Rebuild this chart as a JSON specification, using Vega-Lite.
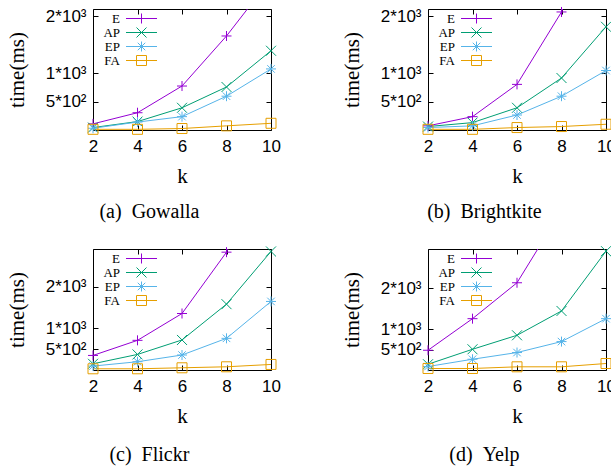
{
  "$schema": "https://vega.github.io/schema/vega-lite/v6.json",
  "padding": {"left": 5, "top": 4, "right": 0, "bottom": 5},
  "background": "white",
  "datasets": {
    "d": [
      {"ds": "Gowalla", "s": "E", "k": 2, "t": 108}, {"ds": "Gowalla", "s": "E", "k": 4, "t": 304}, {"ds": "Gowalla", "s": "E", "k": 6, "t": 774}, {"ds": "Gowalla", "s": "E", "k": 8, "t": 1655}, {"ds": "Gowalla", "s": "E", "k": 10, "t": 2665},
      {"ds": "Gowalla", "s": "AP", "k": 2, "t": 43}, {"ds": "Gowalla", "s": "AP", "k": 4, "t": 148}, {"ds": "Gowalla", "s": "AP", "k": 6, "t": 391}, {"ds": "Gowalla", "s": "AP", "k": 8, "t": 757}, {"ds": "Gowalla", "s": "AP", "k": 10, "t": 1395},
      {"ds": "Gowalla", "s": "EP", "k": 2, "t": 31}, {"ds": "Gowalla", "s": "EP", "k": 4, "t": 140}, {"ds": "Gowalla", "s": "EP", "k": 6, "t": 235}, {"ds": "Gowalla", "s": "EP", "k": 8, "t": 595}, {"ds": "Gowalla", "s": "EP", "k": 10, "t": 1075},
      {"ds": "Gowalla", "s": "FA", "k": 2, "t": 12}, {"ds": "Gowalla", "s": "FA", "k": 4, "t": 12}, {"ds": "Gowalla", "s": "FA", "k": 6, "t": 26}, {"ds": "Gowalla", "s": "FA", "k": 8, "t": 73}, {"ds": "Gowalla", "s": "FA", "k": 10, "t": 118},
      {"ds": "Brightkite", "s": "E", "k": 2, "t": 73}, {"ds": "Brightkite", "s": "E", "k": 4, "t": 235}, {"ds": "Brightkite", "s": "E", "k": 6, "t": 803}, {"ds": "Brightkite", "s": "E", "k": 8, "t": 2078}, {"ds": "Brightkite", "s": "E", "k": 10, "t": 4000},
      {"ds": "Brightkite", "s": "AP", "k": 2, "t": 61}, {"ds": "Brightkite", "s": "AP", "k": 4, "t": 130}, {"ds": "Brightkite", "s": "AP", "k": 6, "t": 391}, {"ds": "Brightkite", "s": "AP", "k": 8, "t": 915}, {"ds": "Brightkite", "s": "AP", "k": 10, "t": 1817},
      {"ds": "Brightkite", "s": "EP", "k": 2, "t": 43}, {"ds": "Brightkite", "s": "EP", "k": 4, "t": 73}, {"ds": "Brightkite", "s": "EP", "k": 6, "t": 264}, {"ds": "Brightkite", "s": "EP", "k": 8, "t": 595}, {"ds": "Brightkite", "s": "EP", "k": 10, "t": 1047},
      {"ds": "Brightkite", "s": "FA", "k": 2, "t": 12}, {"ds": "Brightkite", "s": "FA", "k": 4, "t": 12}, {"ds": "Brightkite", "s": "FA", "k": 6, "t": 43}, {"ds": "Brightkite", "s": "FA", "k": 8, "t": 61}, {"ds": "Brightkite", "s": "FA", "k": 10, "t": 101},
      {"ds": "Flickr", "s": "E", "k": 2, "t": 349}, {"ds": "Flickr", "s": "E", "k": 4, "t": 711}, {"ds": "Flickr", "s": "E", "k": 6, "t": 1354}, {"ds": "Flickr", "s": "E", "k": 8, "t": 2824}, {"ds": "Flickr", "s": "E", "k": 10, "t": 5000},
      {"ds": "Flickr", "s": "AP", "k": 2, "t": 149}, {"ds": "Flickr", "s": "AP", "k": 4, "t": 373}, {"ds": "Flickr", "s": "AP", "k": 6, "t": 720}, {"ds": "Flickr", "s": "AP", "k": 8, "t": 1578}, {"ds": "Flickr", "s": "AP", "k": 10, "t": 2841},
      {"ds": "Flickr", "s": "EP", "k": 2, "t": 94}, {"ds": "Flickr", "s": "EP", "k": 4, "t": 198}, {"ds": "Flickr", "s": "EP", "k": 6, "t": 359}, {"ds": "Flickr", "s": "EP", "k": 8, "t": 759}, {"ds": "Flickr", "s": "EP", "k": 10, "t": 1643},
      {"ds": "Flickr", "s": "FA", "k": 2, "t": 29}, {"ds": "Flickr", "s": "FA", "k": 4, "t": 29}, {"ds": "Flickr", "s": "FA", "k": 6, "t": 53}, {"ds": "Flickr", "s": "FA", "k": 8, "t": 77}, {"ds": "Flickr", "s": "FA", "k": 10, "t": 133},
      {"ds": "Yelp", "s": "E", "k": 2, "t": 483}, {"ds": "Yelp", "s": "E", "k": 4, "t": 1256}, {"ds": "Yelp", "s": "E", "k": 6, "t": 2134}, {"ds": "Yelp", "s": "E", "k": 8, "t": 3900}, {"ds": "Yelp", "s": "E", "k": 10, "t": 6200},
      {"ds": "Yelp", "s": "AP", "k": 2, "t": 141}, {"ds": "Yelp", "s": "AP", "k": 4, "t": 507}, {"ds": "Yelp", "s": "AP", "k": 6, "t": 849}, {"ds": "Yelp", "s": "AP", "k": 8, "t": 1444}, {"ds": "Yelp", "s": "AP", "k": 10, "t": 2907},
      {"ds": "Yelp", "s": "EP", "k": 2, "t": 85}, {"ds": "Yelp", "s": "EP", "k": 4, "t": 263}, {"ds": "Yelp", "s": "EP", "k": 6, "t": 427}, {"ds": "Yelp", "s": "EP", "k": 8, "t": 695}, {"ds": "Yelp", "s": "EP", "k": 10, "t": 1256},
      {"ds": "Yelp", "s": "FA", "k": 2, "t": 37}, {"ds": "Yelp", "s": "FA", "k": 4, "t": 37}, {"ds": "Yelp", "s": "FA", "k": 6, "t": 78}, {"ds": "Yelp", "s": "FA", "k": 8, "t": 78}, {"ds": "Yelp", "s": "FA", "k": 10, "t": 159}
    ]
  },
  "config": {
    "view": {"stroke": "black", "strokeWidth": 1},
    "axis": {"grid": false, "domain": false, "tickColor": "black", "tickSize": -5, "tickWidth": 1, "labelFlush": false,
      "labelFont": "Liberation Sans", "labelFontSize": 17, "labelColor": "black",
      "titleFont": "Liberation Serif", "titleFontSize": 21, "titleFontWeight": "normal", "titleColor": "black"},
    "axisX": {"labelPadding": 13, "titlePadding": 11},
    "axisY": {"labelPadding": 12, "titlePadding": 18},
    "legend": {"orient": "none", "legendX": 27, "legendY": 3, "title": null, "labelFont": "Liberation Serif", "labelFontSize": 13, "labelColor": "black", "symbolSize": 100, "symbolStrokeWidth": 1, "rowPadding": -2, "padding": 0},
    "point": {"filled": false, "size": 100, "strokeWidth": 1, "opacity": 1},
    "title": {"font": "Liberation Serif", "fontSize": 20, "fontWeight": "normal", "color": "black"}
  },
  "resolve": {"scale": {"color": "independent"}, "legend": {"color": "independent"}},
  "spacing": 20,
  "vconcat": [
    {"hconcat": [
      {"width": 178, "height": 121, "data": {"name": "d"},
       "transform": [{"filter": "datum.ds === 'Gowalla'"}],
       "title": {"text": "(a)\u00a0\u00a0Gowalla", "orient": "bottom", "frame": "bounds", "offset": 16, "dx": 6},
       "resolve": {"axis": {"x": "independent", "y": "independent"}},
       "layer": [
        {"mark": {"type": "line", "clip": true, "strokeWidth": 1},
         "encoding": {
          "x": {"field": "k", "type": "quantitative", "scale": {"domain": [2, 10], "nice": false, "zero": false}, "axis": {"orient": "top", "labels": false, "title": null, "values": [2, 4, 6, 8, 10]}},
          "y": {"field": "t", "type": "quantitative", "scale": {"domain": [0, 2130], "nice": false, "zero": false}, "axis": {"orient": "right", "labels": false, "title": null, "values": [500, 1000, 2000]}},
          "color": {"field": "s", "type": "nominal", "scale": {"domain": ["E", "AP", "EP", "FA"], "range": ["#9400D3", "#009E73", "#56B4E9", "#E69F00"]}, "legend": {"rowPadding": -2,
            "encode": {"labels": {"update": {"x": {"value": 0}, "align": {"value": "right"}}},
                       "symbols": {"update": {"x": {"value": 21.5}, "fill": {"value": "transparent"}, "shape": {"signal": "datum.value === 'E' ? 'M-3.1,0H3.1M0,-1V1' : datum.value === 'AP' ? 'M-3.1,0H3.1M-1,-1L1,1M-1,1L1,-1' : datum.value === 'EP' ? 'M-3.1,0H3.1M0,-1V1M-0.75,-0.75L0.75,0.75M-0.75,0.75L0.75,-0.75' : 'M-3.1,0H3.1M-1,-1H1V1H-1Z'"}}}}}},
          "order": {"field": "k"}}},
        {"transform": [{"filter": "datum.s === 'E' && datum.t <= 2130"}],
         "mark": {"type": "point", "shape": "M-1,0H1M0,-1V1", "color": "#9400D3"},
         "encoding": {
          "x": {"field": "k", "type": "quantitative", "scale": {"domain": [2, 10], "nice": false, "zero": false}, "axis": {"values": [2, 4, 6, 8, 10], "title": "k"}},
          "y": {"field": "t", "type": "quantitative", "scale": {"domain": [0, 2130], "nice": false, "zero": false}, "axis": {"values": [500, 1000, 2000], "title": "time(ms)", "labelExpr": "datum.value == 500 ? '5*10²' : datum.value == 1000 ? '1*10³' : '2*10³'"}}}},
        {"transform": [{"filter": "datum.s === 'AP' && datum.t <= 2130"}],
         "mark": {"type": "point", "shape": "M-1,-1L1,1M-1,1L1,-1", "color": "#009E73"},
         "encoding": {"x": {"field": "k", "type": "quantitative", "axis": null}, "y": {"field": "t", "type": "quantitative", "axis": null}}},
        {"transform": [{"filter": "datum.s === 'EP' && datum.t <= 2130"}],
         "mark": {"type": "point", "shape": "M-1,0H1M0,-1V1M-0.75,-0.75L0.75,0.75M-0.75,0.75L0.75,-0.75", "color": "#56B4E9"},
         "encoding": {"x": {"field": "k", "type": "quantitative", "axis": null}, "y": {"field": "t", "type": "quantitative", "axis": null}}},
        {"transform": [{"filter": "datum.s === 'FA' && datum.t <= 2130"}],
         "mark": {"type": "point", "shape": "M-1,-1H1V1H-1Z", "color": "#E69F00"},
         "encoding": {"x": {"field": "k", "type": "quantitative", "axis": null}, "y": {"field": "t", "type": "quantitative", "axis": null}}}
       ]},
      {"width": 178, "height": 121, "data": {"name": "d"},
       "transform": [{"filter": "datum.ds === 'Brightkite'"}],
       "title": {"text": "(b)\u00a0\u00a0Brightkite", "orient": "bottom", "frame": "bounds", "offset": 16, "dx": 6},
       "resolve": {"axis": {"x": "independent", "y": "independent"}},
       "layer": [
        {"mark": {"type": "line", "clip": true, "strokeWidth": 1},
         "encoding": {
          "x": {"field": "k", "type": "quantitative", "scale": {"domain": [2, 10], "nice": false, "zero": false}, "axis": {"orient": "top", "labels": false, "title": null, "values": [2, 4, 6, 8, 10]}},
          "y": {"field": "t", "type": "quantitative", "scale": {"domain": [0, 2130], "nice": false, "zero": false}, "axis": {"orient": "right", "labels": false, "title": null, "values": [500, 1000, 2000]}},
          "color": {"field": "s", "type": "nominal", "scale": {"domain": ["E", "AP", "EP", "FA"], "range": ["#9400D3", "#009E73", "#56B4E9", "#E69F00"]}, "legend": {"rowPadding": -2,
            "encode": {"labels": {"update": {"x": {"value": 0}, "align": {"value": "right"}}},
                       "symbols": {"update": {"x": {"value": 21.5}, "fill": {"value": "transparent"}, "shape": {"signal": "datum.value === 'E' ? 'M-3.1,0H3.1M0,-1V1' : datum.value === 'AP' ? 'M-3.1,0H3.1M-1,-1L1,1M-1,1L1,-1' : datum.value === 'EP' ? 'M-3.1,0H3.1M0,-1V1M-0.75,-0.75L0.75,0.75M-0.75,0.75L0.75,-0.75' : 'M-3.1,0H3.1M-1,-1H1V1H-1Z'"}}}}}},
          "order": {"field": "k"}}},
        {"transform": [{"filter": "datum.s === 'E' && datum.t <= 2130"}],
         "mark": {"type": "point", "shape": "M-1,0H1M0,-1V1", "color": "#9400D3"},
         "encoding": {
          "x": {"field": "k", "type": "quantitative", "scale": {"domain": [2, 10], "nice": false, "zero": false}, "axis": {"values": [2, 4, 6, 8, 10], "title": "k"}},
          "y": {"field": "t", "type": "quantitative", "scale": {"domain": [0, 2130], "nice": false, "zero": false}, "axis": {"values": [500, 1000, 2000], "title": "time(ms)", "labelExpr": "datum.value == 500 ? '5*10²' : datum.value == 1000 ? '1*10³' : '2*10³'"}}}},
        {"transform": [{"filter": "datum.s === 'AP' && datum.t <= 2130"}],
         "mark": {"type": "point", "shape": "M-1,-1L1,1M-1,1L1,-1", "color": "#009E73"},
         "encoding": {"x": {"field": "k", "type": "quantitative", "axis": null}, "y": {"field": "t", "type": "quantitative", "axis": null}}},
        {"transform": [{"filter": "datum.s === 'EP' && datum.t <= 2130"}],
         "mark": {"type": "point", "shape": "M-1,0H1M0,-1V1M-0.75,-0.75L0.75,0.75M-0.75,0.75L0.75,-0.75", "color": "#56B4E9"},
         "encoding": {"x": {"field": "k", "type": "quantitative", "axis": null}, "y": {"field": "t", "type": "quantitative", "axis": null}}},
        {"transform": [{"filter": "datum.s === 'FA' && datum.t <= 2130"}],
         "mark": {"type": "point", "shape": "M-1,-1H1V1H-1Z", "color": "#E69F00"},
         "encoding": {"x": {"field": "k", "type": "quantitative", "axis": null}, "y": {"field": "t", "type": "quantitative", "axis": null}}}
       ]}
    ], "spacing": 59, "resolve": {"scale": {"color": "independent"}, "legend": {"color": "independent"}}},
    {"hconcat": [
      {"width": 178, "height": 121, "data": {"name": "d"},
       "transform": [{"filter": "datum.ds === 'Flickr'"}],
       "title": {"text": "(c)\u00a0\u00a0Flickr", "orient": "bottom", "frame": "bounds", "offset": 19, "dx": 6},
       "resolve": {"axis": {"x": "independent", "y": "independent"}},
       "layer": [
        {"mark": {"type": "line", "clip": true, "strokeWidth": 1},
         "encoding": {
          "x": {"field": "k", "type": "quantitative", "scale": {"domain": [2, 10], "nice": false, "zero": false}, "axis": {"orient": "top", "labels": false, "title": null, "values": [2, 4, 6, 8, 10]}},
          "y": {"field": "t", "type": "quantitative", "scale": {"domain": [0, 2900], "nice": false, "zero": false}, "axis": {"orient": "right", "labels": false, "title": null, "values": [500, 1000, 2000]}},
          "color": {"field": "s", "type": "nominal", "scale": {"domain": ["E", "AP", "EP", "FA"], "range": ["#9400D3", "#009E73", "#56B4E9", "#E69F00"]}, "legend": {"rowPadding": -2,
            "encode": {"labels": {"update": {"x": {"value": 0}, "align": {"value": "right"}}},
                       "symbols": {"update": {"x": {"value": 21.5}, "fill": {"value": "transparent"}, "shape": {"signal": "datum.value === 'E' ? 'M-3.1,0H3.1M0,-1V1' : datum.value === 'AP' ? 'M-3.1,0H3.1M-1,-1L1,1M-1,1L1,-1' : datum.value === 'EP' ? 'M-3.1,0H3.1M0,-1V1M-0.75,-0.75L0.75,0.75M-0.75,0.75L0.75,-0.75' : 'M-3.1,0H3.1M-1,-1H1V1H-1Z'"}}}}}},
          "order": {"field": "k"}}},
        {"transform": [{"filter": "datum.s === 'E' && datum.t <= 2900"}],
         "mark": {"type": "point", "shape": "M-1,0H1M0,-1V1", "color": "#9400D3"},
         "encoding": {
          "x": {"field": "k", "type": "quantitative", "scale": {"domain": [2, 10], "nice": false, "zero": false}, "axis": {"values": [2, 4, 6, 8, 10], "title": "k"}},
          "y": {"field": "t", "type": "quantitative", "scale": {"domain": [0, 2900], "nice": false, "zero": false}, "axis": {"values": [500, 1000, 2000], "title": "time(ms)", "labelExpr": "datum.value == 500 ? '5*10²' : datum.value == 1000 ? '1*10³' : '2*10³'"}}}},
        {"transform": [{"filter": "datum.s === 'AP' && datum.t <= 2900"}],
         "mark": {"type": "point", "shape": "M-1,-1L1,1M-1,1L1,-1", "color": "#009E73"},
         "encoding": {"x": {"field": "k", "type": "quantitative", "axis": null}, "y": {"field": "t", "type": "quantitative", "axis": null}}},
        {"transform": [{"filter": "datum.s === 'EP' && datum.t <= 2900"}],
         "mark": {"type": "point", "shape": "M-1,0H1M0,-1V1M-0.75,-0.75L0.75,0.75M-0.75,0.75L0.75,-0.75", "color": "#56B4E9"},
         "encoding": {"x": {"field": "k", "type": "quantitative", "axis": null}, "y": {"field": "t", "type": "quantitative", "axis": null}}},
        {"transform": [{"filter": "datum.s === 'FA' && datum.t <= 2900"}],
         "mark": {"type": "point", "shape": "M-1,-1H1V1H-1Z", "color": "#E69F00"},
         "encoding": {"x": {"field": "k", "type": "quantitative", "axis": null}, "y": {"field": "t", "type": "quantitative", "axis": null}}}
       ]},
      {"width": 178, "height": 121, "data": {"name": "d"},
       "transform": [{"filter": "datum.ds === 'Yelp'"}],
       "title": {"text": "(d)\u00a0\u00a0Yelp", "orient": "bottom", "frame": "bounds", "offset": 19, "dx": 6},
       "resolve": {"axis": {"x": "independent", "y": "independent"}},
       "layer": [
        {"mark": {"type": "line", "clip": true, "strokeWidth": 1},
         "encoding": {
          "x": {"field": "k", "type": "quantitative", "scale": {"domain": [2, 10], "nice": false, "zero": false}, "axis": {"orient": "top", "labels": false, "title": null, "values": [2, 4, 6, 8, 10]}},
          "y": {"field": "t", "type": "quantitative", "scale": {"domain": [0, 2960], "nice": false, "zero": false}, "axis": {"orient": "right", "labels": false, "title": null, "values": [500, 1000, 2000]}},
          "color": {"field": "s", "type": "nominal", "scale": {"domain": ["E", "AP", "EP", "FA"], "range": ["#9400D3", "#009E73", "#56B4E9", "#E69F00"]}, "legend": {"rowPadding": -2,
            "encode": {"labels": {"update": {"x": {"value": 0}, "align": {"value": "right"}}},
                       "symbols": {"update": {"x": {"value": 21.5}, "fill": {"value": "transparent"}, "shape": {"signal": "datum.value === 'E' ? 'M-3.1,0H3.1M0,-1V1' : datum.value === 'AP' ? 'M-3.1,0H3.1M-1,-1L1,1M-1,1L1,-1' : datum.value === 'EP' ? 'M-3.1,0H3.1M0,-1V1M-0.75,-0.75L0.75,0.75M-0.75,0.75L0.75,-0.75' : 'M-3.1,0H3.1M-1,-1H1V1H-1Z'"}}}}}},
          "order": {"field": "k"}}},
        {"transform": [{"filter": "datum.s === 'E' && datum.t <= 2960"}],
         "mark": {"type": "point", "shape": "M-1,0H1M0,-1V1", "color": "#9400D3"},
         "encoding": {
          "x": {"field": "k", "type": "quantitative", "scale": {"domain": [2, 10], "nice": false, "zero": false}, "axis": {"values": [2, 4, 6, 8, 10], "title": "k"}},
          "y": {"field": "t", "type": "quantitative", "scale": {"domain": [0, 2960], "nice": false, "zero": false}, "axis": {"values": [500, 1000, 2000], "title": "time(ms)", "labelExpr": "datum.value == 500 ? '5*10²' : datum.value == 1000 ? '1*10³' : '2*10³'"}}}},
        {"transform": [{"filter": "datum.s === 'AP' && datum.t <= 2960"}],
         "mark": {"type": "point", "shape": "M-1,-1L1,1M-1,1L1,-1", "color": "#009E73"},
         "encoding": {"x": {"field": "k", "type": "quantitative", "axis": null}, "y": {"field": "t", "type": "quantitative", "axis": null}}},
        {"transform": [{"filter": "datum.s === 'EP' && datum.t <= 2960"}],
         "mark": {"type": "point", "shape": "M-1,0H1M0,-1V1M-0.75,-0.75L0.75,0.75M-0.75,0.75L0.75,-0.75", "color": "#56B4E9"},
         "encoding": {"x": {"field": "k", "type": "quantitative", "axis": null}, "y": {"field": "t", "type": "quantitative", "axis": null}}},
        {"transform": [{"filter": "datum.s === 'FA' && datum.t <= 2960"}],
         "mark": {"type": "point", "shape": "M-1,-1H1V1H-1Z", "color": "#E69F00"},
         "encoding": {"x": {"field": "k", "type": "quantitative", "axis": null}, "y": {"field": "t", "type": "quantitative", "axis": null}}}
       ]}
    ], "spacing": 59, "resolve": {"scale": {"color": "independent"}, "legend": {"color": "independent"}}}
  ]
}
